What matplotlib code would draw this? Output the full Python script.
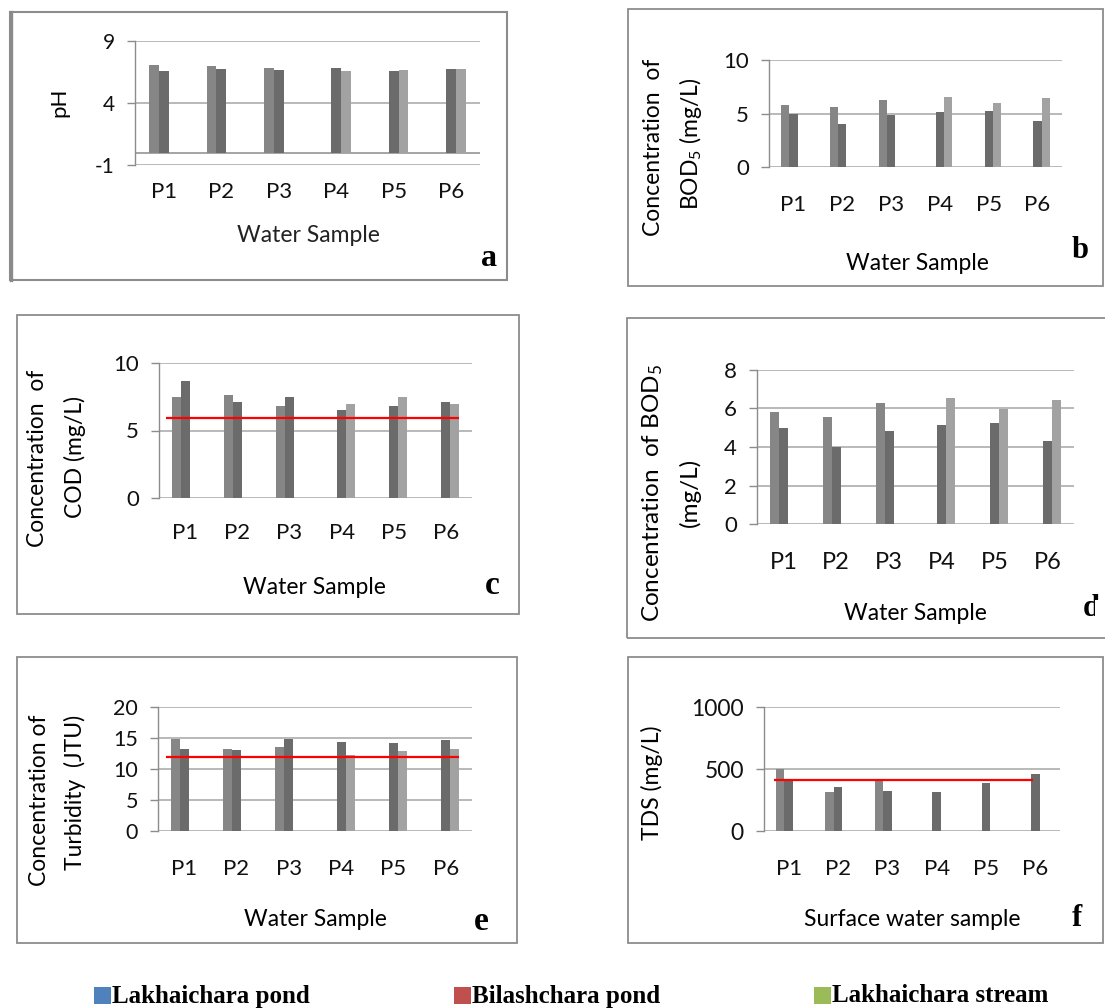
import numpy as np
import matplotlib
matplotlib.use('Agg')
import matplotlib.pyplot as plt
from matplotlib.patches import Rectangle
from matplotlib.lines import Line2D

plt.rcParams['font.family'] = ['Lato', 'DejaVu Sans']
plt.rcParams['mathtext.fontset'] = 'custom'
plt.rcParams['mathtext.rm'] = 'Lato'
plt.rcParams['mathtext.it'] = 'Lato'
plt.rcParams['mathtext.bf'] = 'Lato:bold'

W, H = 1105, 1008
nan = np.nan

samples = ['P1', 'P2', 'P3', 'P4', 'P5', 'P6']
series_names = ['Lakhaichara pond', 'Bilashchara pond', 'Lakhaichara stream']
legend_colors = ['#4F81BD', '#C0504D', '#9BBB59']
bar_colors = ['#868686', '#6b6b6b', '#a2a2a2']

# (a) pH
ph_lakhaichara_pond = [7.08, 6.97, 6.83, nan, nan, nan]
ph_bilashchara_pond = [6.56, 6.75, 6.67, 6.83, 6.56, 6.75]
ph_lakhaichara_stream = [nan, nan, nan, 6.56, 6.67, 6.75]

# (b) and (d) BOD5
bod_lakhaichara_pond = [5.80, 5.58, 6.28, nan, nan, nan]
bod_bilashchara_pond = [5.00, 4.02, 4.82, 5.15, 5.24, 4.30]
bod_lakhaichara_stream = [nan, nan, nan, 6.55, 5.95, 6.42]

# (c) COD
cod_lakhaichara_pond = [7.50, 7.65, 6.83, nan, nan, nan]
cod_bilashchara_pond = [8.69, 7.13, 7.50, 6.53, 6.83, 7.13]
cod_lakhaichara_stream = [nan, nan, nan, 6.98, 7.50, 6.98]
cod_standard = 5.95

# (e) Turbidity
turb_lakhaichara_pond = [14.80, 13.19, 13.51, nan, nan, nan]
turb_bilashchara_pond = [13.19, 13.03, 14.80, 14.32, 14.16, 14.64]
turb_lakhaichara_stream = [nan, nan, nan, 12.23, 12.87, 13.19]
turb_standard = 11.9

# (f) TDS
tds_lakhaichara_pond = [498, 314, 410, nan, nan, nan]
tds_bilashchara_pond = [405, 357, 322, 314, 386, 458]
tds_lakhaichara_stream = [nan, nan, nan, nan, nan, nan]
tds_standard = 410

fig = plt.figure(figsize=(W / 100, H / 100), dpi=100)
fig.patch.set_facecolor('white')


def fx(x):
    return x / W


def fy(y):
    return 1 - y / H


def ftext(x, y, s, **kw):
    return fig.text(fx(x), fy(y), s, **kw)


def box(x0, y0, x1, y1, lw=1.3, color='#8c8c8c'):
    r = Rectangle((fx(x0), fy(y1)), fx(x1) - fx(x0), fy(y0) - fy(y1),
                  transform=fig.transFigure, fill=False, lw=lw, edgecolor=color)
    fig.add_artist(r)


def make_axes(x0, y0, x1, y1):
    return fig.add_axes([fx(x0), fy(y1), fx(x1) - fx(x0), fy(y0) - fy(y1)])


def panel(rect, series, ylim, yticks, ytick_fs, xtick_fs, xpad, std=None, std_span=None,
          zero_line=False):
    ax = make_axes(*rect)
    x = np.arange(len(samples))
    bw = 0.17
    for i, vals in enumerate(series):
        v = np.asarray(vals, dtype=float)
        m = ~np.isnan(v)
        ax.bar(x[m] + (i - 1) * bw, v[m], bw, color=bar_colors[i], zorder=2, linewidth=0)
    ax.set_xlim(-0.5, len(samples) - 0.5)
    ax.set_ylim(*ylim)
    ax.set_yticks(yticks)
    ax.set_yticklabels([str(t) for t in yticks])
    ax.set_xticks(x)
    ax.set_xticklabels(samples)
    ax.yaxis.grid(True, color='#a6a6a6', lw=1.1, zorder=0)
    ax.set_axisbelow(True)
    for s in ['top', 'right', 'bottom']:
        ax.spines[s].set_visible(False)
    ax.spines['left'].set_color('#8c8c8c')
    ax.spines['left'].set_linewidth(1.0)
    ax.tick_params(axis='y', length=5.5, width=1.0, color='#8c8c8c', pad=9,
                   labelsize=ytick_fs, labelcolor='#111111')
    ax.tick_params(axis='x', length=0, pad=xpad, labelsize=xtick_fs, labelcolor='#111111')
    if zero_line:
        ax.axhline(0, color='#8c8c8c', lw=1.1, zorder=1)
    if std is not None:
        ax.hlines(std, std_span[0], std_span[1], color='#ff0000', lw=1.6, zorder=3)
    ax.patch.set_alpha(0)
    return ax


LBL = 16.5

# ---------- panel a ----------
box(10, 12, 507, 280, lw=1.5)
fig.add_artist(Line2D([fx(11), fx(11)], [fy(12), fy(280)], transform=fig.transFigure,
                      color='#8a8a8a', lw=2.4))
panel((135, 41, 480, 165),
      [ph_lakhaichara_pond, ph_bilashchara_pond, ph_lakhaichara_stream],
      (-1, 9), [-1, 4, 9], 15, 16, 12, zero_line=True)
ftext(59, 102, 'pH', rotation=90, ha='center', va='center', fontsize=16)
ftext(308, 235, 'Water Sample', ha='center', va='center', fontsize=LBL, color='#222222')
ftext(489, 258, 'a', ha='center', va='center', fontsize=23, fontweight='bold',
      family='Liberation Serif')

# ---------- panel b ----------
box(628, 9, 1103, 286)
panel((769, 60, 1062, 167),
      [bod_lakhaichara_pond, bod_bilashchara_pond, bod_lakhaichara_stream],
      (0, 10), [0, 5, 10], 16, 16, 20)
ftext(653, 147, 'Concentration  of', rotation=90, ha='center', va='center', fontsize=16.5)
ftext(690, 144, r'BOD$_5$ (mg/L)', rotation=90, ha='center', va='center', fontsize=16.5)
ftext(917, 264, 'Water Sample', ha='center', va='center', fontsize=LBL)
ftext(1080, 251, 'b', ha='center', va='center', fontsize=22, fontweight='bold',
      family='Liberation Serif')

# ---------- panel c ----------
box(17, 315, 519, 614)
panel((159, 363, 472, 498),
      [cod_lakhaichara_pond, cod_bilashchara_pond, cod_lakhaichara_stream],
      (0, 10), [0, 5, 10], 16, 16, 18, std=cod_standard, std_span=(-0.37, 5.26))
ftext(38, 458, 'Concentration  of', rotation=90, ha='center', va='center', fontsize=16.5)
ftext(75, 457, 'COD (mg/L)', rotation=90, ha='center', va='center', fontsize=16.5)
ftext(314, 587, 'Water Sample', ha='center', va='center', fontsize=LBL)
ftext(492, 586, 'c', ha='center', va='center', fontsize=24, fontweight='bold',
      family='Liberation Serif')

# ---------- panel d ----------
box(627, 318, 1120, 638)
panel((757, 370, 1074, 524),
      [bod_lakhaichara_pond, bod_bilashchara_pond, bod_lakhaichara_stream],
      (0, 8), [0, 2, 4, 6, 8], 16, 17, 20)
ftext(653, 493, r'Concentration  of BOD$_5$', rotation=90, ha='center', va='center',
      fontsize=17.5)
ftext(690, 492, '(mg/L)', rotation=90, ha='center', va='center', fontsize=17.5)
ftext(915, 613, 'Water Sample', ha='center', va='center', fontsize=LBL)
ftext(1083, 608, 'd', ha='left', va='center', fontsize=22, fontweight='bold',
      family='Liberation Serif')
fig.add_artist(Rectangle((fx(1095), fy(630)), fx(1105) - fx(1095), 30 / H,
                         transform=fig.transFigure, facecolor='white', edgecolor='none',
                         zorder=10))

# ---------- panel e ----------
box(17, 657, 517, 943)
panel((158, 707, 472, 831),
      [turb_lakhaichara_pond, turb_bilashchara_pond, turb_lakhaichara_stream],
      (0, 20), [0, 5, 10, 15, 20], 15.5, 16, 20, std=turb_standard, std_span=(-0.34, 5.26))
ftext(40, 800, 'Concentration of', rotation=90, ha='center', va='center', fontsize=16.5)
ftext(75, 792, 'Turbidity  (JTU)', rotation=90, ha='center', va='center', fontsize=16.5)
ftext(315, 920, 'Water Sample', ha='center', va='center', fontsize=LBL)
ftext(481, 922, 'e', ha='center', va='center', fontsize=24, fontweight='bold',
      family='Liberation Serif')

# ---------- panel f ----------
box(628, 657, 1103, 943)
panel((764, 707, 1060, 831),
      [tds_lakhaichara_pond, tds_bilashchara_pond, tds_lakhaichara_stream],
      (0, 1000), [0, 500, 1000], 16.5, 16, 20, std=tds_standard, std_span=(-0.30, 4.96))
ftext(652, 783, 'TDS (mg/L)', rotation=90, ha='center', va='center', fontsize=16.5)
ftext(912, 920, 'Surface water sample', ha='center', va='center', fontsize=LBL)
ftext(1077, 918, 'f', ha='center', va='center', fontsize=22, fontweight='bold',
      family='Liberation Serif')

# ---------- legend ----------
legend_x = [94, 454, 814]
for name, col, lx in zip(series_names, legend_colors, legend_x):
    sq = Rectangle((fx(lx), fy(1004)), 17 / W, 17 / H, transform=fig.transFigure,
                   facecolor=col, edgecolor='none')
    fig.add_artist(sq)
    ftext(lx + 18, 996, name, ha='left', va='center', fontsize=18, fontweight='bold',
          family='Liberation Serif')

fig.savefig('out.png', dpi=100, facecolor='white')
